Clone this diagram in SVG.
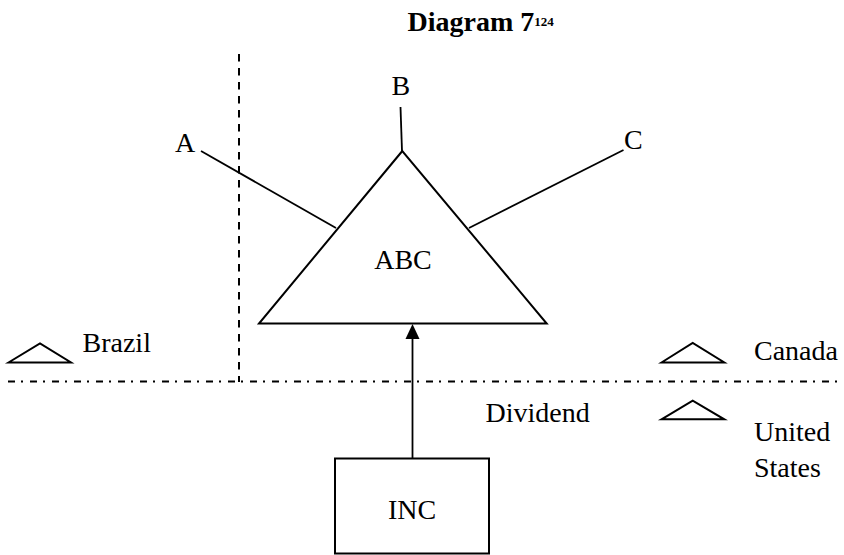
<svg xmlns="http://www.w3.org/2000/svg" width="844" height="555" viewBox="0 0 844 555">
<style>
text{font-family:"Liberation Serif","Times New Roman",serif;font-size:28px;fill:#000}
.s{fill:none;stroke:#000;stroke-width:2}
.c{fill:none;stroke:#000;stroke-width:1.8}
.t{font-weight:bold}
</style>
<rect width="844" height="555" fill="#fff"/>
<g id="title"><text class="t" x="407.5" y="31">Diagram 7<tspan font-size="13" font-weight="bold" dy="-5">124</tspan></text></g>
<g id="borders">
<line x1="239" y1="54" x2="239" y2="382" stroke="#000" stroke-width="2" stroke-dasharray="7.5 6.5"/>
<line x1="8" y1="381.5" x2="840" y2="381.5" stroke="#000" stroke-width="2" stroke-dasharray="7 6 2 7"/>
</g>
<g id="connectors">
<line class="c" x1="201" y1="151" x2="336" y2="228"/>
<line class="c" x1="400.5" y1="107" x2="402" y2="151"/>
<line class="c" x1="623.5" y1="150" x2="469" y2="228"/>
<line class="c" x1="412.5" y1="458" x2="412.5" y2="339"/>
<path d="M405.5,339 L412.5,324 L419.5,339 Z" fill="#000"/>
</g>
<g id="node-abc"><polygon class="s" points="402.3,151 259,323.5 546.7,323.5"/><text x="403" y="269" text-anchor="middle">ABC</text></g>
<g id="node-a"><text x="175" y="152">A</text></g>
<g id="node-b"><text x="391.5" y="95">B</text></g>
<g id="node-c"><text x="624" y="149">C</text></g>
<g id="node-inc"><rect class="s" x="335" y="458.5" width="154" height="95"/><text x="412" y="519" text-anchor="middle">INC</text></g>
<g id="node-brazil"><polygon class="s" points="8.5,362.5 40,343.5 71,362.5"/><text x="82.5" y="352">Brazil</text></g>
<g id="node-canada"><polygon class="s" points="661.5,362.5 692.7,343 724.3,362.5"/><text x="754" y="360">Canada</text></g>
<g id="node-us"><polygon class="s" points="661.5,419.3 692.7,400.7 724.3,419.3"/><text x="754" y="441">United</text><text x="754" y="477">States</text></g>
<g id="label-dividend"><text x="485.5" y="421.5">Dividend</text></g>
</svg>
